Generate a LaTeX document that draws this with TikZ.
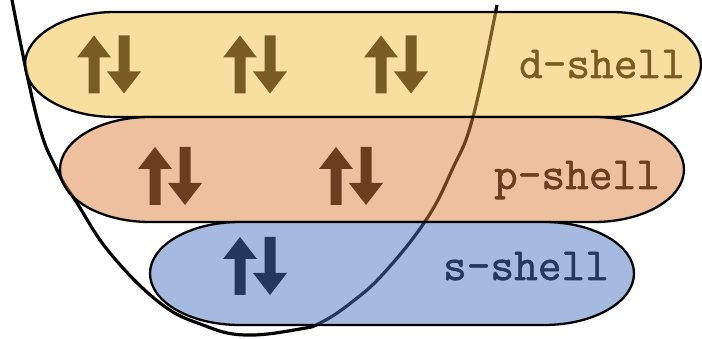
\documentclass[tikz,border=0pt]{standalone}
\usepackage{fontspec}
\usepackage{xcolor}
\usepackage{tikz}
\usetikzlibrary{positioning}

\newfontfamily\tagfont{Latin Modern Mono}[FakeBold=1.3]

\definecolor{dfill}{HTML}{F8DFA0}
\definecolor{ddark}{HTML}{7A5C23}
\definecolor{pfill}{HTML}{EDC0A0}
\definecolor{pdark}{HTML}{6B3E20}
\definecolor{sfill}{HTML}{A6B9E0}
\definecolor{sdark}{HTML}{25375F}

% potential well
\newcommand{\well}{plot[smooth, tension=0.7] coordinates {(12,339) (37,221) (57,169) (77,136) (110,86) (160,36) (203,14) (245,4) (300,10) (322,17) (352,37) (384,66) (426,119) (452,169) (473,222) (497,334)}}
% shell outline: left centre, right centre, mid height, half height
\newcommand{\shell}[4]{(#1,#3+#4) -- (#2,#3+#4) arc[start angle=90, end angle=-90, x radius=90, y radius=#4] -- (#1,#3-#4) arc[start angle=270, end angle=90, x radius=90, y radius=#4] -- cycle}
% up/down pair
\newcommand{\spins}[3]{%
  \fill[#3] (#1-5.5,#2-29) -- (#1+5.5,#2-29) -- (#1+5.5,#2+7) -- (#1+17,#2+7) -- (#1,#2+29) -- (#1-17,#2+7) -- (#1-5.5,#2+7) -- cycle;
  \fill[#3] (#1+24.5,#2+29) -- (#1+35.5,#2+29) -- (#1+35.5,#2-7) -- (#1+47,#2-7) -- (#1+30,#2-29) -- (#1+13,#2-7) -- (#1+24.5,#2-7) -- cycle;
}

\begin{document}
\begin{tikzpicture}[x=1pt, y=1pt, line join=round]

\tikzstyle{wellline}=[line width=3.2pt]
\tikzstyle{rim}=[draw=black, line width=2.3pt]
\tikzstyle{tag}=[anchor=base, inner sep=0pt, font=\fontsize{46}{50}\selectfont\tagfont]

\useasboundingbox (0,0) rectangle (702,339);

\draw[wellline] \well;

% d-shell
\fill[dfill] \shell{115}{611}{274.5}{52.5};
\begin{scope}
\clip \shell{115}{611}{274.5}{52.5};
\draw[wellline, ddark] \well;
\end{scope}
\draw[rim] \shell{115}{611}{274.5}{52.5};

% p-shell
\fill[pfill] \shell{150}{594}{169.5}{52.5};
\begin{scope}
\clip \shell{150}{594}{169.5}{52.5};
\draw[wellline, pdark] \well;
\end{scope}
\draw[rim] \shell{150}{594}{169.5}{52.5};

% s-shell
\fill[sfill] \shell{240}{544}{65.5}{51.5};
\begin{scope}
\clip \shell{240}{544}{65.5}{51.5};
\draw[wellline, sdark] \well;
\end{scope}
\draw[rim] \shell{240}{544}{65.5}{51.5};

\spins{94}{274.5}{ddark}
\spins{240}{274.5}{ddark}
\spins{381}{274.5}{ddark}
\spins{155}{163}{pdark}
\spins{336}{163}{pdark}
\spins{240}{73}{sdark}

\node[tag, text=ddark] (L_d) at (602,261) {d-shell};
\node[tag, text=pdark] (L_p) at (577,150) {p-shell};
\node[tag, text=sdark] (L_s) at (526,59) {s-shell};

\end{tikzpicture}
\end{document}
